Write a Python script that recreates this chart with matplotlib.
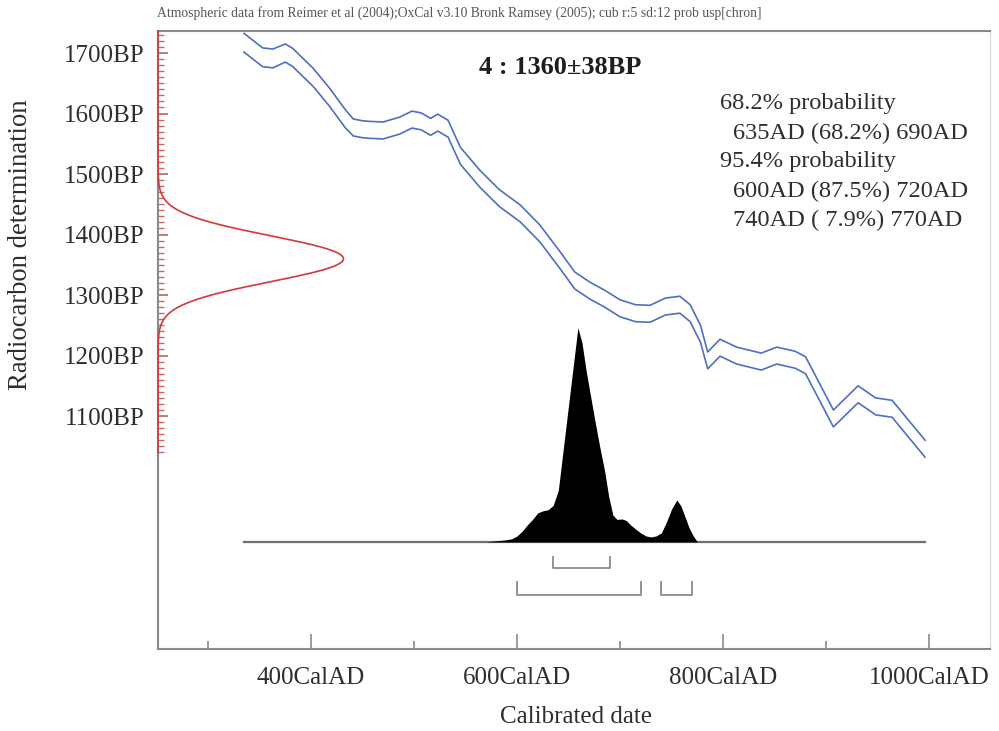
import numpy as np
import matplotlib
matplotlib.use("Agg")
import matplotlib.pyplot as plt
from matplotlib.ticker import FixedLocator

plt.rcParams['font.family'] = ['Liberation Serif', 'DejaVu Serif']

# --- Measurement ---
sample_label = "4 : 1360\u00b138BP"
c14_age = 1360
c14_err = 38

# --- Calibration curve (centre, BP) and its 1-sigma half width ---
curve_years = [335, 353, 363, 375, 382, 402, 418, 433, 441, 450, 457, 470, 486,
               498, 507, 516, 523, 533, 545, 564, 583, 603, 622, 642, 656, 671,
               685, 700, 715, 729, 744, 758, 768, 778, 785, 797, 813, 837, 852,
               870, 880, 907, 931, 948, 964, 996]
curve_bp = [1717, 1693, 1691, 1700, 1693, 1660, 1627, 1592, 1577, 1574, 1573,
            1572, 1580, 1590, 1587, 1578, 1585, 1575, 1530, 1492, 1460, 1435,
            1402, 1357, 1324, 1307, 1294, 1278, 1270, 1269, 1281, 1284, 1270,
            1236, 1192, 1213, 1200, 1190, 1200, 1193, 1184, 1096, 1136, 1116,
            1112, 1046]
curve_sigma = [15.5, 15.5, 15.5, 15, 15, 15, 15, 15, 14, 14, 14, 14, 14, 14, 14,
               14, 14, 14, 14, 14, 14, 14, 14, 14, 14, 14, 14, 14, 14, 14, 14,
               14, 14, 14, 14, 14, 14, 14, 14, 14, 14, 14, 14, 14, 14, 14]

# --- Calibrated probability distribution (relative, peak = 1) ---
prob_years = [570, 580, 590, 595, 600, 605, 610, 615, 620, 625, 630, 635, 640,
              645, 650, 655, 659, 663, 667, 671, 675, 680, 685, 689, 693, 697,
              702, 706, 710, 715, 720, 725, 730, 735, 740, 745, 750, 755, 759,
              763, 767, 771, 775]
prob_rel = [0.0, 0.005, 0.01, 0.015, 0.028, 0.05, 0.08, 0.105, 0.135, 0.145,
            0.15, 0.17, 0.24, 0.44, 0.64, 0.84, 1.0, 0.93, 0.80, 0.69, 0.58,
            0.45, 0.33, 0.21, 0.125, 0.105, 0.107, 0.10, 0.08, 0.06, 0.042,
            0.028, 0.023, 0.028, 0.042, 0.093, 0.154, 0.196, 0.168, 0.117,
            0.065, 0.028, 0.0]

# --- Highest probability ranges ---
range_68 = [(635, 690)]
range_95 = [(600, 720), (740, 770)]
summary_lines = ["68.2% probability", "635AD (68.2%) 690AD",
                 "95.4% probability", "600AD (87.5%) 720AD",
                 "740AD ( 7.9%) 770AD"]

# --- Axis ticks ---
x_major = [400, 600, 800, 1000]
x_major_labels = ["400CalAD", "600CalAD", "800CalAD", "1000CalAD"]
x_minor = [300, 500, 700, 900]
y_major = [1100, 1200, 1300, 1400, 1500, 1600, 1700]
y_major_labels = ["1100BP", "1200BP", "1300BP", "1400BP", "1500BP", "1600BP", "1700BP"]

header = ("Atmospheric data from Reimer et al (2004);OxCal v3.10 Bronk Ramsey (2005); "
          "cub r:5 sd:12 prob usp[chron]")

TEXT = '#2e2e2e'
AXIS = '#8a8a8a'
BLUE = '#4f6fc4'
RED = '#d23a3a'

fig = plt.figure(figsize=(9.99, 7.31), dpi=100)
ax = fig.add_axes([158 / 999, 1 - 649 / 731, (990 - 158) / 999, (649 - 31) / 731])

x_lo, x_hi = 251.5, 1059
y_lo, y_hi = 715, 1736.4
ax.set_xlim(x_lo, x_hi)
ax.set_ylim(y_lo, y_hi)

# calibration curve envelope
cy = np.array(curve_years, float)
cb = np.array(curve_bp, float)
cs = np.array(curve_sigma, float)
ax.plot(cy, cb + cs, color=BLUE, lw=1.2)
ax.plot(cy, cb - cs, color=BLUE, lw=1.2)

# radiocarbon determination as a normal curve on the y axis
bp = np.linspace(1040, y_hi, 800)
g = np.exp(-0.5 * ((bp - c14_age) / c14_err) ** 2)
ax.plot(x_lo + 180 * g, bp, color=RED, lw=1.2, clip_on=False, zorder=4)

# calibrated distribution
base = 892
height = 354
py = np.array(prob_years, float)
pr = np.array(prob_rel, float)
ax.fill_between(py, base, base + height * pr, color='black', lw=0, zorder=3)
ax.plot([cy[0], cy[-1]], [base, base], color='#707070', lw=1.6, zorder=2)

# range brackets
def bracket(lo, hi, bottom, top):
    ax.plot([lo, lo, hi, hi], [top, bottom, bottom, top], color='#8a8a8a', lw=1.3)

for lo, hi in range_68:
    bracket(lo, hi, 849, 867)
for lo, hi in range_95:
    bracket(lo, hi, 804, 826)

# axes styling
for side in ['left', 'bottom', 'top']:
    ax.spines[side].set_color(AXIS)
    ax.spines[side].set_linewidth(1.5)
ax.spines['right'].set_color('#dddddd')
ax.spines['right'].set_linewidth(1.0)

ax.xaxis.set_major_locator(FixedLocator(x_major))
ax.set_xticklabels(x_major_labels)
ax.xaxis.set_minor_locator(FixedLocator(x_minor))
ax.tick_params(axis='x', which='major', direction='in', length=11, width=1.2,
               color=AXIS, labelsize=18, labelcolor=TEXT, pad=13)
ax.tick_params(axis='x', which='minor', direction='in', length=6, width=1.2,
               color=AXIS)

ax.yaxis.set_major_locator(FixedLocator(y_major))
ax.set_yticklabels(y_major_labels)
minor_y = [v for v in range(1040, 1740, 10) if v not in y_major]
ax.yaxis.set_minor_locator(FixedLocator(minor_y))
ax.tick_params(axis='y', which='major', direction='in', length=7, width=1.1,
               color='#b05858', labelsize=18, labelcolor=TEXT, pad=10)
ax.tick_params(axis='y', which='minor', direction='in', length=4, width=1.0,
               color='#c46a6a')

# text
fig.text(560 / 999, 1 - 68 / 731, sample_label, ha='center', va='center',
         fontsize=19, fontweight='bold', color='#1e1e1e')
line_y = [104, 133, 162, 191, 220]
for txt, y in zip(summary_lines, line_y):
    x = 720 if 'probability' in txt else 733
    fig.text(x / 999, 1 - y / 731, txt, ha='left', va='center', fontsize=17.6,
             color=TEXT)

fig.text(157 / 999, 1 - 13 / 731, header, ha='left', va='center', fontsize=9.8,
         color='#555555')
fig.text(21 / 999, 1 - 245 / 731, "Radiocarbon determination", rotation=90,
         ha='center', va='center', fontsize=19.2, color=TEXT)
fig.text(576 / 999, 1 - 717 / 731, "Calibrated date", ha='center', va='center',
         fontsize=18, color=TEXT)

fig.savefig("out.png", dpi=100, facecolor='white')
